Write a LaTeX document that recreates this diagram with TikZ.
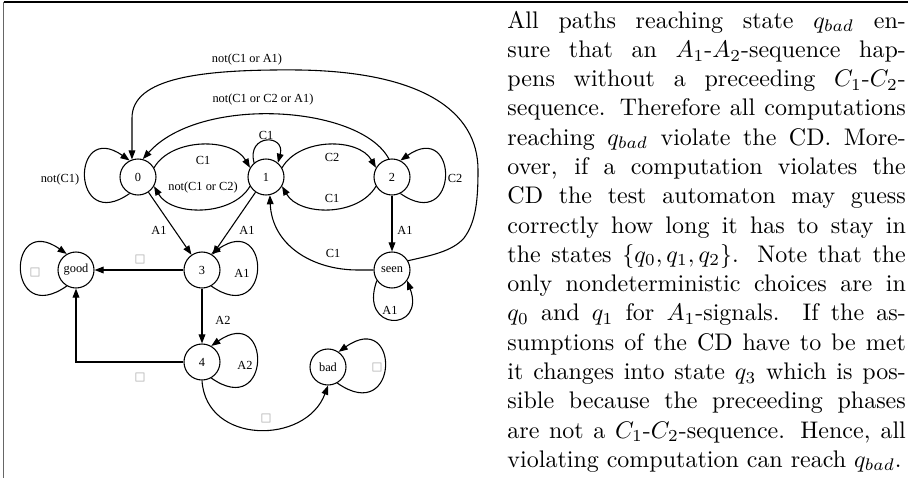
\documentclass[tikz,border=0pt]{standalone}
\usepackage{fontspec}
\newfontfamily\graphfont{Liberation Serif}
\newfontfamily\symfont{DejaVu Sans}
\usetikzlibrary{arrows.meta}
\tolerance=10000
\hbadness=10000
\begin{document}
\begin{tikzpicture}[x=0.4167pt,y=0.4167pt,
  st/.style={circle,draw,line width=0.45pt,minimum size=15pt,inner sep=0pt,font=\graphfont\fontsize{5.15}{6}\selectfont},
  lab/.style={inner sep=0pt,font=\graphfont\fontsize{5.15}{6}\selectfont},
  sq/.style={inner sep=0pt,text=black!35,font=\symfont\fontsize{4.8}{5}\selectfont},
  ed/.style={line width=0.45pt,-{Triangle[length=3.8pt,width=2.8pt]}},
  body/.style={anchor=north west,inner sep=0pt,text width=166pt,align=justify,font=\fontsize{10}{12.2}\selectfont},
]
\useasboundingbox[fill=white] (0,0) rectangle (908,-478);
\coordinate (tl) at (3.5,-2);
\coordinate (tr) at (908,-2);
\coordinate (bl) at (3.5,-478);
\draw[line width=0.8pt] (tl) -- (tr);
\draw[black!60,line width=0.7pt] (tl) -- (bl);

% states
\node[st] (n0) at (138,-177) {0};
\node[st] (n1) at (266,-177) {1};
\node[st] (n2) at (392,-177) {2};
\node[st] (good) at (76,-270) {good};
\node[st] (n3) at (202,-270) {3};
\node[st] (seen) at (392,-270) {seen};
\node[st] (n4) at (202,-362) {4};
\node[st] (bad) at (328,-367) {bad};

% self loops
\draw[ed] (n0.243) .. controls +(215:72) and +(145:72) .. (n0.117);
\draw[ed] (n1.130) .. controls +(105:30) and +(75:30) .. (n1.50);
\draw[ed] (n2.-63) .. controls +(-35:72) and +(35:72) .. (n2.63);
\draw[ed] (good.240) .. controls +(215:74) and +(145:74) .. (good.120);
\draw[ed] (n3.-60) .. controls +(-35:74) and +(35:74) .. (n3.60);
\draw[ed] (n4.-60) .. controls +(-35:74) and +(35:74) .. (n4.60);
\draw[ed] (bad.-60) .. controls +(-35:76) and +(35:76) .. (bad.55);
\draw[ed] (seen.215) .. controls +(250:55) and +(290:55) .. (seen.325);

% arcs between 0,1,2
\draw[ed] (n0.30) .. controls +(60:35) and +(120:35) .. (n1.150);
\draw[ed] (n1.210) .. controls +(240:35) and +(300:35) .. (n0.330);
\draw[ed] (n1.30) .. controls +(60:35) and +(120:35) .. (n2.150);
\draw[ed] (n2.210) .. controls +(240:35) and +(300:35) .. (n1.330);
\draw[ed] (n2.100) .. controls (360,-105) and (200,-95) .. (n0.75);
\draw[ed] (seen.30) .. controls (428,-256) and (452,-252) .. (464,-238)
  .. controls (476,-222) and (478,-200) .. (478,-170)
  .. controls (478,-110) and (420,-72) .. (300,-70)
  .. controls (200,-69) and (132,-78) .. (132,-118) -- (n0.109);

% straight edges
\draw[ed] (n0) -- (n3);
\draw[ed] (n1) -- (n3);
\draw[ed] (n3) -- (good);
\draw[ed] (n3) -- (n4);
\draw[ed] (n2) -- (seen);
\draw[ed] (n4.west) -| (good.south);
\draw[ed] (n4.south) .. controls (206,-445) and (306,-445) .. (bad.south);
\draw[ed] (seen.west) -- (358,-270) .. controls (312,-270) and (272,-245) .. (n1.282);

% labels
\node[lab] (l01) at (60,-180) {not(C1)};
\node[lab] (l02) at (203,-160) {C1};
\node[lab] (l03) at (203,-188) {not(C1 or C2)};
\node[lab] (l04) at (266,-135) {C1};
\node[lab] (l05) at (332,-157) {C2};
\node[lab] (l06) at (332,-198) {C1};
\node[lab] (l07) at (455,-178) {C2};
\node[lab] (l08) at (263,-100) {not(C1 or C2 or A1)};
\node[lab] (l09) at (247,-60) {not(C1 or A1)};
\node[lab] (l10) at (159,-230) {A1};
\node[lab] (l11) at (247,-230) {A1};
\node[lab] (l12) at (405,-230) {A1};
\node[lab] (l13) at (242,-273) {A1};
\node[lab] (l14) at (333,-253) {C1};
\node[lab] (l15) at (390,-310) {A1};
\node[lab] (l16) at (223,-320) {A2};
\node[lab] (l17) at (245,-365) {A2};
\node[sq] (s1) at (140,-260) {□};
\node[sq] (s2) at (35,-273) {□};
\node[sq] (s3) at (140,-378) {□};
\node[sq] (s4) at (266,-419) {□};
\node[sq] (s5) at (377,-368) {□};

% text
\node[body] (txt) at (507,-10.5)
{All paths reaching state $q_{bad}$ en-\linebreak
sure that an $A_1$-$A_2$-sequence hap-\linebreak
pens without a preceeding $C_1$-$C_2$-\linebreak
sequence. Therefore all computations\linebreak
reaching $q_{bad}$ violate the CD. More-\linebreak
over, if a computation violates the\linebreak
CD the test automaton may guess\linebreak
correctly how long it has to stay in\linebreak
the states $\{q_0,q_1,q_2\}$. Note that the\linebreak
only nondeterministic choices are in\linebreak
$q_0$ and $q_1$ for $A_1$-signals. If the as-\linebreak
sumptions of the CD have to be met\linebreak
it changes into state $q_3$ which is pos-\linebreak
sible because the preceeding phases\linebreak
are not a $C_1$-$C_2$-sequence. Hence, all\linebreak
violating computation can reach $q_{bad}$.};
\end{tikzpicture}
\end{document}
